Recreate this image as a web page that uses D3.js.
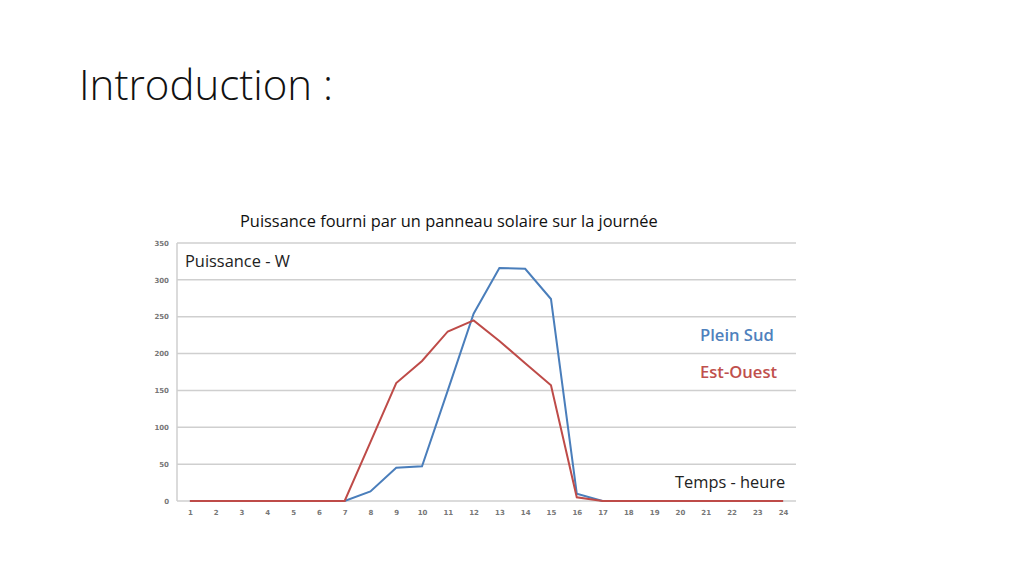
<!DOCTYPE html>
<html>
<head>
<meta charset="utf-8">
<script src="https://cdn.jsdelivr.net/npm/d3@7"></script>
<style>
  body { margin: 0; background: #fff; }
  svg { display: block; }
</style>
</head>
<body>
<div id="chart"></div>
<script>
/* DATA */
const hours = d3.range(1, 25);
const pleinSud = [0, 0, 0, 0, 0, 0, 0, 13, 45, 47, 150, 254, 316, 315, 274, 10, 0, 0, 0, 0, 0, 0, 0, 0];
const estOuest = [0, 0, 0, 0, 0, 0, 0, 80, 160, 190, 230, 245, 217, 187, 157, 5, 0, 0, 0, 0, 0, 0, 0, 0];
const yTicks = [0, 50, 100, 150, 200, 250, 300, 350];

/* CONSTANTS */
const width = 1024;
const height = 576;
const plotLeft = 177, plotRight = 796, plotTop = 243, plotBottom = 501;

const svg = d3.select("#chart")
  .append("svg")
  .attr("width", width)
  .attr("height", height);

/* SCALES */
const xScale = d3.scalePoint()
  .domain(hours)
  .range([plotLeft, plotRight])
  .padding(0.5);

const yScale = d3.scaleLinear()
  .domain([0, 350])
  .range([plotBottom, plotTop]);

// TITLES
svg.append("text")
  .attr("x", 79)
  .attr("y", 100)
  .style("font-family", "'Open Sans', sans-serif")
  .style("font-weight", 300)
  .style("font-size", "42px")
  .attr("fill", "#111")
  .text("Introduction :");

svg.append("text")
  .attr("x", 240)
  .attr("y", 227)
  .style("font-family", "'Open Sans', sans-serif")
  .style("font-size", "16.4px")
  .attr("fill", "#111")
  .text("Puissance fourni par un panneau solaire sur la journée");

// GRID
svg.append("g")
  .selectAll("line")
  .data(yTicks)
  .join("line")
  .attr("x1", plotLeft)
  .attr("x2", plotRight)
  .attr("y1", d => yScale(d))
  .attr("y2", d => yScale(d))
  .attr("stroke", "#cfcfcf")
  .attr("stroke-width", 1.5);

svg.append("line")
  .attr("x1", plotLeft).attr("x2", plotLeft)
  .attr("y1", yScale(350)).attr("y2", yScale(0))
  .attr("stroke", "#cfcfcf")
  .attr("stroke-width", 1.5);

// AXES
const yAxis = d3.axisLeft(yScale).tickValues(yTicks).tickSize(0).tickPadding(8);
const xAxis = d3.axisBottom(xScale).tickSize(0).tickPadding(9);

svg.append("g")
  .attr("transform", "translate(" + plotLeft + ",0)")
  .call(yAxis)
  .call(g => g.select(".domain").remove());

svg.append("g")
  .attr("transform", "translate(0," + plotBottom + ")")
  .call(xAxis)
  .call(g => g.select(".domain").remove());

svg.selectAll(".tick text")
  .style("font-family", "'DejaVu Sans', sans-serif")
  .style("font-size", "7px")
  .style("font-weight", "bold")
  .attr("fill", "#777");

// LINES
const line = d3.line()
  .x((d, i) => xScale(hours[i]))
  .y(d => yScale(d));

svg.append("path")
  .datum(pleinSud)
  .attr("d", line)
  .attr("fill", "none")
  .attr("stroke", "#4a7ebb")
  .attr("stroke-width", 2);

svg.append("path")
  .datum(estOuest)
  .attr("d", line)
  .attr("fill", "none")
  .attr("stroke", "#be4b48")
  .attr("stroke-width", 2);

// LABELS INSIDE
svg.append("text")
  .attr("x", 185)
  .attr("y", 267)
  .style("font-family", "'Open Sans', sans-serif")
  .style("font-size", "16.4px")
  .attr("fill", "#222")
  .text("Puissance - W");

svg.append("text")
  .attr("x", 700)
  .attr("y", 341)
  .style("font-family", "'Open Sans', sans-serif")
  .style("font-size", "16.6px")
  .style("font-weight", 600)
  .attr("fill", "#4f81bd")
  .text("Plein Sud");

svg.append("text")
  .attr("x", 700)
  .attr("y", 378)
  .style("font-family", "'Open Sans', sans-serif")
  .style("font-size", "16.6px")
  .style("font-weight", 600)
  .attr("fill", "#c0504d")
  .text("Est-Ouest");

svg.append("text")
  .attr("x", 675)
  .attr("y", 488)
  .style("font-family", "'Open Sans', sans-serif")
  .style("font-size", "16.4px")
  .attr("fill", "#222")
  .text("Temps - heure");
</script>
</body>
</html>
